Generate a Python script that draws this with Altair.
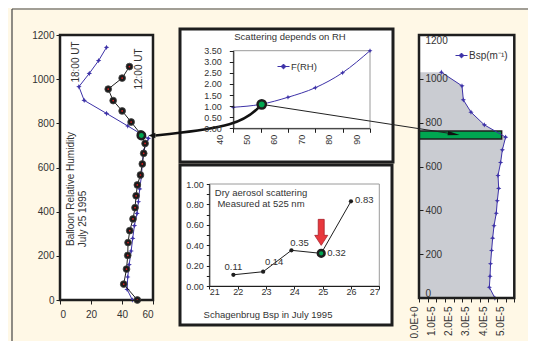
import math
import altair as alt
import pandas as pd

# ---------------- values ----------------
# Balloon relative humidity profiles, July 25 1995 (altitude m / RH %)
rh12_alt = [0, 72, 140, 202, 260, 314, 367, 418, 472, 521, 566, 616, 664, 709, 752, 806, 856, 903, 955, 1005, 1057]
rh12_rh = [49.9, 41.1, 42.9, 43.7, 43.9, 45.0, 47.1, 48.4, 49.1, 49.9, 51.9, 53.1, 54.0, 54.9, 52.0, 45.9, 40.1, 34.3, 31.1, 40.1, 44.8]
rh18_alt = [0, 48, 104, 160, 222, 279, 337, 392, 445, 503, 558, 619, 675, 732, 788, 845, 904, 966, 1026, 1084, 1144]
rh18_rh = [46.7, 43.3, 43.7, 44.6, 45.9, 46.9, 48.0, 49.7, 50.6, 51.4, 52.5, 53.1, 54.0, 57.0, 43.7, 30.0, 15.6, 12.2, 18.9, 24.9, 30.0]
rh_sel = [52.5, 745]

# F(RH)
frh_rh = [45, 55, 65, 75, 85, 95]
frh_f = [0.95, 1.08, 1.40, 1.83, 2.51, 3.50]
frh_sel = [55.4, 1.08]

# Schagenbrug dry scattering
dry_day = [21.85, 22.9, 23.9, 24.95, 26.0]
dry_bsp = [0.11, 0.14, 0.35, 0.32, 0.83]
dry_sel = 3

# Bsp profile
bsp_alt = [0, 49, 99, 156, 217, 273, 330, 387, 444, 500, 559, 618, 676, 734, 790, 848, 904, 968, 1030]
bsp_val = [4.38e-5, 4.06e-5, 4.10e-5, 4.13e-5, 4.19e-5, 4.25e-5, 4.33e-5, 4.46e-5, 4.52e-5, 4.60e-5,
           4.56e-5, 4.71e-5, 4.81e-5, 5.00e-5, 3.77e-5, 3.00e-5, 2.56e-5, 2.48e-5, 1.29e-5]
band_alt = [726, 762]
band_bsp = 4.77e-5
band_mark = 2.35e-5

# tick values
rh_ticks = [0, 20, 40, 60]
alt_ticks = [0, 200, 400, 600, 800, 1000, 1200]
frh_rh_ticks = [45, 55, 65, 75, 85, 95]
frh_f_ticks = [0, 0.5, 1.0, 1.5, 2.0, 2.5, 3.0, 3.5]
day_ticks = [21, 22, 23, 24, 25, 26, 27]
dry_ticks = [0.0, 0.1, 0.2, 0.3, 0.4, 0.5, 0.6, 0.7, 0.8, 0.9, 1.0]
bsp_ticks = [0.0, 0.5e-5, 1.0e-5, 1.5e-5, 2.0e-5, 2.5e-5, 3.0e-5, 3.5e-5, 4.0e-5, 4.5e-5, 5.0e-5, 5.5e-5]

# ---------------- layout / style ----------------
W, H = 520, 333
FONT = "Liberation Sans"
INK = "#1e1e1e"
TXT = "#333333"
PURPLE = "#3D32A8"
GREEN = "#00A651"
CREAM = "#FFF8E6"
SHADE = "#CACCD2"

L_XD, L_XR = [0, 60], [52, 145]
L_YD, L_YR = [0, 1200], [292, 27]
T_XD, T_XR = [45, 95], [225.3, 362]
T_YD, T_YR = [0, 3.5], [120.3, 42.7]
B_XD, B_XR = [21, 27], [201.3, 371.3]
B_YD, B_YR = [0, 1.0], [278, 176]
R_XD, R_XR = [0, 5.5e-5], [411, 506.3]
R_YD, R_YR = [0, 1200], [290, 27]


def sc(d, r):
    return alt.Scale(domain=d, range=r, nice=False, zero=False)


def ax(**kw):
    base = dict(labelFont=FONT, labelColor=TXT, domainColor=INK, tickColor=INK,
                grid=False, zindex=1, labelFontSize=10)
    base.update(kw)
    return alt.Axis(**base)


def px(v, d, r):
    return r[0] + (v - d[0]) / (d[1] - d[0]) * (r[1] - r[0])


one = pd.DataFrame({"k": [0]})


def txt(text, x, y, size=10, angle=0, align="center", color=TXT):
    return alt.Chart(one).mark_text(text=text, font=FONT, fontSize=size, angle=angle,
                                    align=align, baseline="middle", color=color).encode(
        x=alt.value(x), y=alt.value(y))


def frame_df(xd, yd):
    return pd.DataFrame({"x0": [xd[0]], "x1": [xd[1]], "y0": [yd[0]], "y1": [yd[1]]})


layers = []

# page frame
layers.append(alt.Chart(one).mark_rule(color="#444", strokeWidth=1.2).encode(
    x=alt.value(4), y=alt.value(1), y2=alt.value(H)))
layers.append(alt.Chart(one).mark_rule(color="#444", strokeWidth=1.2).encode(
    x=alt.value(4), x2=alt.value(W), y=alt.value(1)))

# middle boxes
for (bx0, by0, bx1, by1) in [(172, 21, 385, 154), (172, 157, 384, 317)]:
    layers.append(alt.Chart(one).mark_rect(fill="white", stroke=INK, strokeWidth=3).encode(
        x=alt.value(bx0), x2=alt.value(bx1), y=alt.value(by0), y2=alt.value(by1)))

# ---------- left panel ----------
lx = lambda f, **k: alt.X(f, scale=sc(L_XD, L_XR), title=None, **k)
ly = lambda f, **k: alt.Y(f, scale=sc(L_YD, L_YR), title=None, **k)

layers.append(alt.Chart(frame_df(L_XD, L_YD)).mark_rect(fill="white", stroke=INK, strokeWidth=2.5).encode(
    x=lx("x0:Q", axis=ax(orient="bottom", offset=L_YR[0] - H, values=rh_ticks, tickSize=4, labelPadding=5,
                         format="d")),
    x2="x1:Q",
    y=ly("y0:Q", axis=ax(orient="left", offset=-L_XR[0], values=alt_ticks, tickSize=4, labelPadding=2,
                         format="d")),
    y2="y1:Q"))

d18 = pd.DataFrame({"rh": rh18_rh, "alt": rh18_alt, "i": range(len(rh18_rh))})
d12 = pd.DataFrame({"rh": rh12_rh, "alt": rh12_alt, "i": range(len(rh12_rh))})
STAR = "M0,-1L0.3,-0.3L1,0L0.3,0.3L0,1L-0.3,0.3L-1,0L-0.3,-0.3Z"

layers.append(alt.Chart(d18).mark_line(color=PURPLE, strokeWidth=1).encode(
    x=lx("rh:Q", axis=None), y=ly("alt:Q", axis=None), order="i:Q"))
layers.append(alt.Chart(d18).mark_point(shape=STAR, filled=True, color=PURPLE, size=30, opacity=1).encode(
    x=lx("rh:Q", axis=None), y=ly("alt:Q", axis=None)))
layers.append(alt.Chart(d12).mark_line(color=INK, strokeWidth=1).encode(
    x=lx("rh:Q", axis=None), y=ly("alt:Q", axis=None), order="i:Q"))
layers.append(alt.Chart(d12).mark_point(shape="circle", filled=True, color="#1a1a1a", size=46, opacity=1,
                                        stroke="#444", strokeWidth=0.8).encode(
    x=lx("rh:Q", axis=None), y=ly("alt:Q", axis=None)))
layers.append(alt.Chart(d12).mark_point(shape="circle", filled=True, color="#E02020", size=3, opacity=1).encode(
    x=lx("rh:Q", axis=None), y=ly("alt:Q", axis=None)))
layers.append(alt.Chart(pd.DataFrame({"rh": [rh_sel[0]], "alt": [rh_sel[1]]})).mark_point(
    shape="circle", filled=True, fill=GREEN, stroke=INK, strokeWidth=2.5, size=55, opacity=1).encode(
    x=lx("rh:Q", axis=None), y=ly("alt:Q", axis=None)))

layers.append(txt("18:00 UT", 68, 54, angle=270))
layers.append(txt("12:00 UT", 131, 61, angle=270))
layers.append(txt("Balloon Relative Humidity", 63, 181, angle=270))
layers.append(txt("July 25 1995", 75, 211, angle=270))

# ---------- top middle panel ----------
tx = lambda f, **k: alt.X(f, scale=sc(T_XD, T_XR), title=None, **k)
ty = lambda f, **k: alt.Y(f, scale=sc(T_YD, T_YR), title=None, **k)

layers.append(alt.Chart(frame_df(T_XD, T_YD)).mark_rect(fill="white", stroke="#9a9a9a", strokeWidth=1).encode(
    x=tx("x0:Q", axis=ax(orient="bottom", offset=T_YR[0] - H, values=frh_rh_ticks,
                         labelExpr="datum.value - 5", labelAngle=270, labelOffset=-14,
                         tickSize=4, labelPadding=2, labelFontSize=9)),
    x2="x1:Q",
    y=ty("y0:Q", axis=ax(orient="left", offset=-T_XR[0], values=frh_f_ticks, format=".2f",
                         tickSize=4, labelPadding=8, labelFontSize=9)),
    y2="y1:Q"))

dfr = pd.DataFrame({"rh": frh_rh, "f": frh_f, "s": ["F(RH)"] * len(frh_rh)})
LEG_SYM = "M-1,0L1,0M0,-0.4L0.4,0L0,0.4L-0.4,0Z"
layers.append(alt.Chart(dfr).mark_line(strokeWidth=1, interpolate="monotone").encode(
    x=tx("rh:Q", axis=None), y=ty("f:Q", axis=None),
    color=alt.Color("s:N", scale=alt.Scale(domain=["F(RH)"], range=[PURPLE]),
                    legend=alt.Legend(orient="none", legendX=269, legendY=52, title=None,
                                      symbolType=LEG_SYM, symbolSize=144, symbolStrokeWidth=1,
                                      symbolFillColor=PURPLE, symbolStrokeColor=PURPLE,
                                      labelFont=FONT, labelFontSize=9.5, labelColor=TXT,
                                      labelOffset=1, padding=0))))
layers.append(alt.Chart(dfr).mark_point(shape=STAR, filled=True, color=PURPLE, size=25, opacity=1).encode(
    x=tx("rh:Q", axis=None), y=ty("f:Q", axis=None)))
layers.append(txt("Scattering depends on RH", 282, 29, size=9.5))

# ---------- bottom middle panel ----------
bxs = lambda f, **k: alt.X(f, scale=sc(B_XD, B_XR), title=None, **k)
bys = lambda f, **k: alt.Y(f, scale=sc(B_YD, B_YR), title=None, **k)

layers.append(alt.Chart(frame_df(B_XD, B_YD)).mark_rect(fill="white", stroke="#9a9a9a", strokeWidth=1).encode(
    x=bxs("x0:Q", axis=ax(orient="bottom", offset=B_YR[0] - H, values=day_ticks,
                          tickSize=3, labelPadding=-2, labelFontSize=9, format="d")),
    x2="x1:Q",
    y=bys("y0:Q", axis=ax(orient="left", offset=-B_XR[0], values=dry_ticks,
                          labelExpr="round(datum.value*10) % 2 == 0 ? format(datum.value, '.2f') : ''",
                          tickSize=3, labelPadding=3, labelFontSize=9)),
    y2="y1:Q"))

ddry = pd.DataFrame({"day": dry_day, "b": dry_bsp, "i": range(len(dry_day)),
                     "lab": [f"{v:.2f}" for v in dry_bsp]})
layers.append(alt.Chart(ddry).mark_line(color=INK, strokeWidth=1).encode(
    x=bxs("day:Q", axis=None), y=bys("b:Q", axis=None)))
layers.append(alt.Chart(ddry).mark_point(shape="circle", filled=True, color=INK, size=18, opacity=1).encode(
    x=bxs("day:Q", axis=None), y=bys("b:Q", axis=None)))
label_style = [(0, -8, "center"), (11, -10, "center"), (8, -7, "center"), (6, 0, "left"), (4, -1, "left")]
for i, (ddx, ddy, al) in enumerate(label_style):
    layers.append(alt.Chart(ddry.iloc[[i]]).mark_text(font=FONT, fontSize=9.5, color=TXT, dx=ddx, dy=ddy,
                                                      align=al, baseline="middle").encode(
        x=bxs("day:Q", axis=None), y=bys("b:Q", axis=None), text="lab:N"))
sel = ddry.iloc[[dry_sel]]
layers.append(alt.Chart(sel).mark_point(shape="circle", filled=True, fill=GREEN, stroke=INK, strokeWidth=2.5,
                                        size=45, opacity=1).encode(
    x=bxs("day:Q", axis=None), y=bys("b:Q", axis=None)))
ARROW_DOWN = "M-0.23,-1L0.23,-1L0.23,0.23L0.5,0.23L0,1L-0.5,0.23L-0.23,0.23Z"
layers.append(alt.Chart(sel).mark_point(shape=ARROW_DOWN, filled=True, fill="#E8383D", stroke="#A8202A",
                                        strokeWidth=0.8, size=676, opacity=1, yOffset=-21).encode(
    x=bxs("day:Q", axis=None), y=bys("b:Q", axis=None)))
layers.append(txt("Dry aerosol scattering", 253, 185, size=9.5))
layers.append(txt("Measured at 525 nm", 253, 195.5, size=9.5))
layers.append(txt("Schagenbrug Bsp  in July 1995", 260, 307, size=9.5))

# ---------- right panel ----------
rxs = lambda f, **k: alt.X(f, scale=sc(R_XD, R_XR), title=None, **k)
rys = lambda f, **k: alt.Y(f, scale=sc(R_YD, R_YR), title=None, **k)
rframe = frame_df(R_XD, R_YD)
layers.append(alt.Chart(rframe).mark_rect(fill="white").encode(
    x=rxs("x0:Q", axis=ax(orient="bottom", offset=R_YR[0] - H, values=bsp_ticks,
                          labelExpr="abs(datum.value*1e5 - round(datum.value*1e5)) < 0.01 ? "
                                    "(datum.value == 0 ? '0.0E+0' : format(datum.value*1e5, '.1f') + 'E-5') : ''",
                          labelAngle=270, labelOffset=-5, tickSize=4, labelPadding=4)),
    x2="x1:Q",
    y=rys("y0:Q", axis=ax(orient="right", offset=R_XR[0] - W, values=alt_ticks, tickSize=4,
                          labelPadding=2, labelAlign="left", format="d", labelFlush=True)),
    y2="y1:Q"))

dbsp = pd.DataFrame({"alt": bsp_alt, "v": bsp_val, "i": range(len(bsp_alt)), "s": ["Bsp(m⁻¹)"] * len(bsp_alt)})
layers.append(alt.Chart(dbsp).mark_area(orient="horizontal", color=SHADE, opacity=1).encode(
    y=rys("alt:Q", axis=None), x=rxs("v:Q", axis=None), x2=alt.datum(0)))
layers.append(alt.Chart(pd.DataFrame({"a0": [band_alt[0]], "a1": [band_alt[1]], "v0": [0.0], "v1": [band_bsp]}))
              .mark_rect(fill=GREEN, stroke=INK, strokeWidth=1.5).encode(
    x=rxs("v0:Q", axis=None), x2="v1:Q", y=rys("a0:Q", axis=None), y2="a1:Q"))
layers.append(alt.Chart(dbsp).mark_line(strokeWidth=1).encode(
    x=rxs("v:Q", axis=None), y=rys("alt:Q", axis=None), order="i:Q",
    color=alt.Color("s:N", scale=alt.Scale(domain=["Bsp(m⁻¹)"], range=[PURPLE]),
                    legend=alt.Legend(orient="none", legendX=447, legendY=41, title=None,
                                      symbolType=LEG_SYM, symbolSize=144, symbolStrokeWidth=1,
                                      symbolFillColor=PURPLE, symbolStrokeColor=PURPLE,
                                      labelFont=FONT, labelFontSize=10, labelColor=TXT,
                                      labelOffset=1, padding=0))))
layers.append(alt.Chart(dbsp).mark_point(shape=STAR, filled=True, color=PURPLE, size=28, opacity=1).encode(
    x=rxs("v:Q", axis=None), y=rys("alt:Q", axis=None)))
layers.append(alt.Chart(rframe).mark_rect(fillOpacity=0, stroke=INK, strokeWidth=2.5).encode(
    x=rxs("x0:Q", axis=None), x2="x1:Q", y=rys("y0:Q", axis=None), y2="y1:Q"))

# ---------- connectors (pixel positions derived from the data through the panel scales) ----------
pl = (px(rh_sel[0], L_XD, L_XR), px(rh_sel[1], L_YD, L_YR))
pt = (px(frh_sel[0], T_XD, T_XR), px(frh_sel[1], T_YD, T_YR))
pr = (px(band_mark, R_XD, R_XR), px(sum(band_alt) / 2, R_YD, R_YR))

tip = (pl[0] + 7, pl[1])
start = (tip[0] + 7, tip[1])
ctrl = (pt[0] - 22, start[1] - 9)
curve = pd.DataFrame({"x": [start[0], ctrl[0], pt[0]], "y": [start[1], ctrl[1], pt[1]], "i": [0, 1, 2]})
layers.append(alt.Chart(curve).mark_line(color="#111", strokeWidth=2.6, interpolate="basis").encode(
    x=alt.X("x:Q", scale=None), y=alt.Y("y:Q", scale=None), order="i:Q"))
layers.append(alt.Chart(pd.DataFrame({"x": [tip[0] + 3.5], "y": [tip[1]]})).mark_point(
    shape="M-1,0L1,-0.8L1,0.8Z", filled=True, color="#111", size=49, opacity=1).encode(
    x=alt.X("x:Q", scale=None), y=alt.Y("y:Q", scale=None)))

ang = math.degrees(math.atan2(pr[1] - pt[1], pr[0] - pt[0])) % 360
ux, uy = math.cos(math.radians(ang)), math.sin(math.radians(ang))
thin = pd.DataFrame({"x": [pt[0], pr[0] - 10 * ux], "y": [pt[1], pr[1] - 10 * uy], "i": [0, 1]})
layers.append(alt.Chart(thin).mark_line(color="#222", strokeWidth=1).encode(
    x=alt.X("x:Q", scale=None), y=alt.Y("y:Q", scale=None), order="i:Q"))
layers.append(alt.Chart(pd.DataFrame({"x": [pr[0] - 6 * ux], "y": [pr[1] - 6 * uy]})).mark_point(
    shape="M1,0L-1,-0.35L-1,0.35Z", filled=True, color="#111", size=144, opacity=1, angle=ang).encode(
    x=alt.X("x:Q", scale=None), y=alt.Y("y:Q", scale=None)))

# green dot in top panel drawn last so it sits above the connectors
layers.append(alt.Chart(pd.DataFrame({"rh": [frh_sel[0]], "f": [frh_sel[1]]})).mark_point(
    shape="circle", filled=True, fill=GREEN, stroke=INK, strokeWidth=2.5, size=70, opacity=1).encode(
    x=tx("rh:Q", axis=None), y=ty("f:Q", axis=None)))

chart = alt.layer(*layers).resolve_scale(
    x="independent", y="independent", color="independent"
).properties(
    width=W, height=H, padding=0,
    autosize=alt.AutoSizeParams(type="none"),
    background=CREAM,
).configure_view(stroke=None)

chart.save("out.html", embed_options={"renderer": "svg", "actions": False})
